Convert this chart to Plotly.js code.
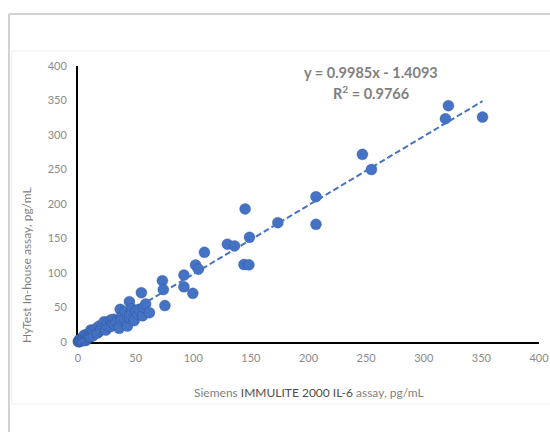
<!DOCTYPE html>
<html>
<head>
<meta charset="utf-8">
<script src="https://cdn.plot.ly/plotly-3.0.1.min.js"></script>
<style>
  html, body { margin: 0; padding: 0; background: #ffffff; }
  #chart { width: 550px; height: 432px; }
</style>
</head>
<body>
<div id="chart"></div>
<script>
// Siemens IMMULITE 2000 IL-6 assay (pg/mL)
const siemensX = [
  0.3, 0.5, 1, 1.5, 2, 2.6, 3, 3, 4, 4.5, 5, 5.5, 6, 6.5, 7, 7.5, 8, 8, 9, 9.8, 10, 11, 11.2, 12,
  13, 13, 14, 15.6, 16, 17, 18.4, 19, 20, 21, 22.7, 23, 24.2, 25, 26, 27, 28.5, 29,
  30, 31, 32, 33, 34.3, 35.7, 36.6, 37, 38, 39, 40.6, 41, 42.9, 43, 44.6, 45, 46,
  47, 48.7, 48.7, 50, 52, 53, 55, 56, 57, 58.7, 62,
  73.2, 74, 75.4, 91.9, 91.9, 99.6, 102, 104.5, 109.7, 129.6, 135.8, 145, 148.8,
  144, 148.3, 173.4, 206.5, 206.5, 246.8, 254.6, 318.8, 321.4, 351
];
// HyTest In-house assay (pg/mL)
const hytestY = [
  0.5, 1, 3, 0.5, 2, 5, 1.5, 3, 3, 7, 6, 10, 4, 2, 8, 4, 5, 11, 7, 10, 7, 8, 17.4, 12,
  9, 16, 14, 15, 20, 13, 23.2, 16, 19, 21, 29.5, 19, 17.4, 24, 28, 22, 32, 23,
  27, 33, 25, 30, 29.5, 19.8, 47.3, 31, 35, 38, 34.3, 44, 23.2, 36, 58.4, 35, 40,
  48, 41.6, 31, 45, 40, 47.3, 71.5, 38, 50, 55, 42.5,
  88.8, 76, 52.8, 97, 80, 70.5, 111.6, 105.5, 130, 141.8, 139.3, 192.8, 151.7,
  112.3, 111.8, 172.9, 210.6, 170.5, 272, 250, 323.6, 342.5, 326
];
// Linear trendline as reported on the chart
const slope = 0.9985;
const intercept = -1.4093;
const rSquared = 0.9766;
const tickVals = [0, 50, 100, 150, 200, 250, 300, 350, 400];

const xMin = Math.min(...siemensX);
const xMax = Math.max(...siemensX);
const trendX = [xMin, xMax];
const trendY = trendX.map(v => slope * v + intercept);

const blue = '#4472C4';
const tickGray = '#8a8a8a';
const textGray = '#7f7f7f';
const fontFam = 'Lato, "Open Sans", "Liberation Sans", sans-serif';

const W = 550, H = 432;
const mL = 78, mR = 11, mT = 66, mB = 90;
const pw = W - mL - mR, ph = H - mT - mB;
const px = v => (v - mL) / pw;          // pixel -> paper x
const py = v => (H - mB - v) / ph;      // pixel -> paper y

const traces = [
  {
    type: 'scatter', mode: 'markers',
    x: siemensX, y: hytestY,
    marker: { color: blue, size: 11, line: { width: 0.6, color: 'rgba(40,70,130,0.5)' } },
    cliponaxis: false,
    hoverinfo: 'x+y'
  },
  {
    type: 'scatter', mode: 'lines',
    x: trendX, y: trendY,
    line: { color: blue, width: 2, dash: '6px,3px' },
    cliponaxis: false,
    hoverinfo: 'skip'
  }
];

const axisCommon = {
  range: [0, 400],
  tickvals: tickVals,
  ticktext: tickVals.map(String),
  showgrid: false,
  zeroline: false,
  showline: true,
  linecolor: '#000000',
  linewidth: 2,
  ticks: '',
  layer: 'below traces',
  tickfont: { family: fontFam, size: 11, color: tickGray },
  fixedrange: true
};

const layout = {
  width: W, height: H,
  margin: { l: mL, r: mR, t: mT, b: mB, pad: 0 },
  paper_bgcolor: '#ffffff',
  plot_bgcolor: '#ffffff',
  showlegend: false,
  font: { family: fontFam, color: textGray },
  xaxis: Object.assign({}, axisCommon, { ticklabelstandoff: 5 }),
  yaxis: Object.assign({}, axisCommon, { ticklabelstandoff: 7 }),
  shapes: [
    // outer frame (top + left)
    { type: 'line', xref: 'paper', yref: 'paper', x0: px(9), x1: px(552), y0: py(14), y1: py(14),
      line: { color: '#d2d2d2', width: 2 } },
    { type: 'line', xref: 'paper', yref: 'paper', x0: px(9), x1: px(9), y0: py(14), y1: py(434),
      line: { color: '#d2d2d2', width: 2 } },
    // faint inner chart area box
    { type: 'line', xref: 'paper', yref: 'paper', x0: px(11.5), x1: px(552), y0: py(51), y1: py(51),
      line: { color: '#efefef', width: 1 } },
    { type: 'line', xref: 'paper', yref: 'paper', x0: px(11.5), x1: px(552), y0: py(404), y1: py(404),
      line: { color: '#efefef', width: 1 } },
    { type: 'line', xref: 'paper', yref: 'paper', x0: px(11.5), x1: px(11.5), y0: py(51), y1: py(404),
      line: { color: '#efefef', width: 1 } }
  ],
  annotations: [
    { xref: 'paper', yref: 'paper', x: px(371), y: py(72), xanchor: 'center', yanchor: 'middle',
      showarrow: false,
      text: '<b>y = ' + slope.toFixed(4) + 'x - ' + Math.abs(intercept).toFixed(4) + '</b>',
      font: { family: fontFam, size: 14.5, color: textGray } },
    { xref: 'paper', yref: 'paper', x: px(371), y: py(92), xanchor: 'center', yanchor: 'middle',
      showarrow: false,
      text: '<b>R<sup>2</sup> = ' + rSquared.toFixed(4) + '</b>',
      font: { family: fontFam, size: 14.5, color: textGray } },
    { xref: 'paper', yref: 'paper', x: px(309), y: py(392), xanchor: 'center', yanchor: 'middle',
      showarrow: false,
      text: 'Siemens <span style="color:#4d4d4d">IMMULITE 2000 IL-6</span> assay, pg/mL',
      font: { family: fontFam, size: 12, color: textGray } },
    { xref: 'paper', yref: 'paper', x: px(26), y: py(265), xanchor: 'center', yanchor: 'middle',
      showarrow: false, textangle: -90,
      text: 'HyTest In-house assay, pg/mL',
      font: { family: fontFam, size: 12, color: textGray } }
  ]
};

Plotly.newPlot('chart', traces, layout, { displayModeBar: false, staticPlot: true });
</script>
</body>
</html>
